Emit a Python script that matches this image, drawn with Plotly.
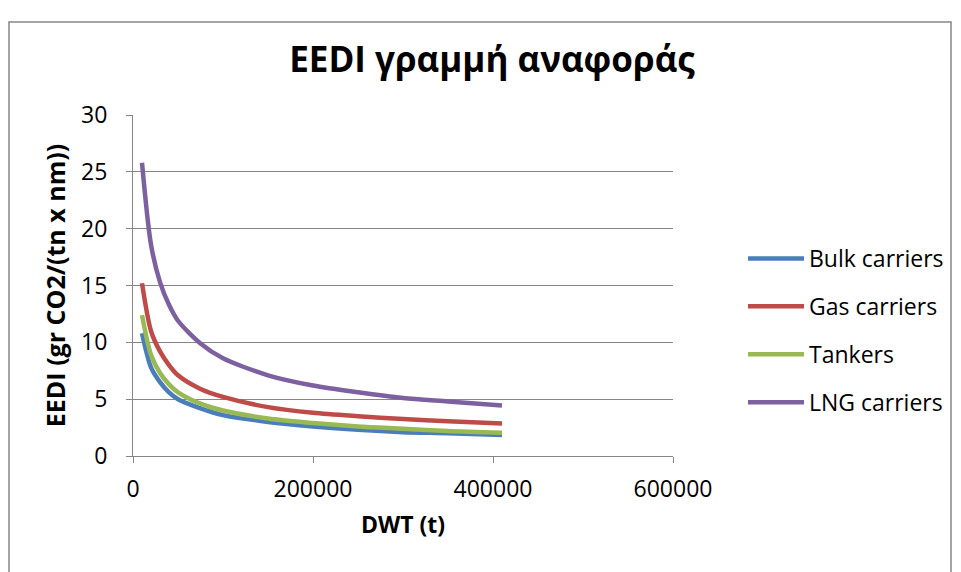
import plotly.graph_objects as go

# DWT sample points (t)
dwt = [10000, 20000, 30000, 40000, 50000, 75000, 100000, 150000,
       200000, 250000, 300000, 350000, 410000]

# EEDI reference values, gr CO2/(tn x nm)
bulk_carriers = [10.8, 7.8, 6.5, 5.6, 5.0, 4.2, 3.6, 3.0, 2.6, 2.3, 2.1, 2.0, 1.85]
gas_carriers = [15.2, 11.0, 9.2, 8.0, 7.1, 5.9, 5.2, 4.3, 3.8, 3.5, 3.25, 3.05, 2.85]
tankers = [12.4, 8.9, 7.3, 6.3, 5.6, 4.6, 4.0, 3.3, 2.9, 2.6, 2.4, 2.2, 2.05]
lng_carriers = [25.8, 18.6, 15.3, 13.3, 11.9, 9.9, 8.6, 7.1, 6.2, 5.6, 5.1, 4.8, 4.45]

series = [
    ("Bulk carriers", bulk_carriers, "#4A7EBB"),
    ("Gas carriers", gas_carriers, "#BE4B48"),
    ("Tankers", tankers, "#98B954"),
    ("LNG carriers", lng_carriers, "#7D60A0"),
]

x_ticks = [0, 200000, 400000, 600000]
y_ticks = [0, 5, 10, 15, 20, 25, 30]

FONT = "Open Sans"
TICK_SIZE = 23

fig = go.Figure()
for i, (name, vals, color) in enumerate(series):
    fig.add_trace(go.Scatter(
        x=dwt, y=vals, name=name, mode="lines",
        line=dict(color=color, width=4.5, shape="spline", smoothing=0.8),
        legendgroup=f"g{i}",
    ))

W, H = 961, 572
L, R, T, B = 133, 673, 115, 456
pw, ph = R - L, B - T


def px(x):
    return (x - L) / pw


def py(y):
    return (B - y) / ph


fig.update_layout(
    width=W, height=H,
    margin=dict(l=L, r=W - R, t=T, b=H - B, autoexpand=False),
    paper_bgcolor="white", plot_bgcolor="white",
    font=dict(family=FONT, size=TICK_SIZE, color="black"),
    title=dict(text="<b>EEDI γραμμή αναφοράς</b>", xref="container",
               x=492 / W, xanchor="center",
               y=1 - 60 / H, yanchor="middle",
               font=dict(family=FONT, size=35, color="black")),
    showlegend=True,
    legend=dict(x=px(743), y=py(237), xanchor="left", yanchor="top",
                font=dict(family=FONT, size=TICK_SIZE, color="black"),
                tracegroupgap=15, itemwidth=56,
                bgcolor="rgba(0,0,0,0)"),
    xaxis=dict(range=[0, 600000], tickvals=x_ticks, tickformat="d",
               showgrid=False, zeroline=False,
               showline=True, linecolor="#868686", linewidth=1,
               ticks="outside", ticklen=6, tickcolor="#868686",
               ticklabelstandoff=6,
               tickfont=dict(family=FONT, size=TICK_SIZE),
               title=dict(text="<b>DWT (t)</b>", standoff=14,
                          font=dict(family=FONT, size=TICK_SIZE))),
    yaxis=dict(range=[0, 30], tickvals=y_ticks,
               showgrid=True, gridcolor="#868686", gridwidth=1,
               zeroline=False,
               showline=True, linecolor="#868686", linewidth=1,
               ticks="outside", ticklen=6, tickcolor="#868686",
               ticklabelstandoff=14,
               tickfont=dict(family=FONT, size=TICK_SIZE),
               title=dict(text="<b>EEDI (gr CO2/(tn x nm))</b>", standoff=8,
                          font=dict(family=FONT, size=25))),
    shapes=[dict(type="rect", xref="paper", yref="paper",
                 x0=px(9), x1=px(951), y0=py(22), y1=py(600),
                 line=dict(color="#868686", width=1.5), layer="below")],
)

fig.write_html("out.html")
